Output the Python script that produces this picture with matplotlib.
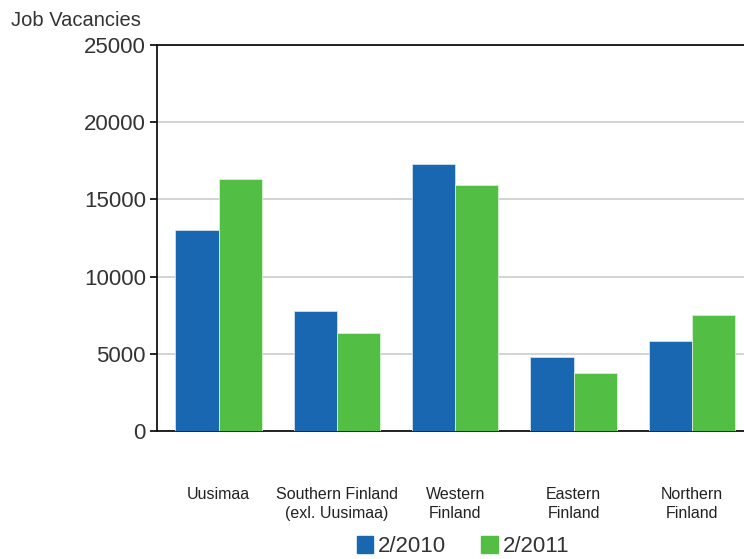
import numpy as np
import matplotlib.pyplot as plt
from matplotlib.patches import Patch

plt.rcParams['font.family'] = ['Liberation Sans', 'DejaVu Sans']

# Data
regions = ['Uusimaa', 'Southern Finland\n(exl. Uusimaa)', 'Western\nFinland',
           'Eastern\nFinland', 'Northern\nFinland']
vac_2010 = [13000, 7800, 17300, 4800, 5830]
vac_2011 = [16300, 6350, 15900, 3780, 7490]
series_names = ['2/2010', '2/2011']
yticks = [0, 5000, 10000, 15000, 20000, 25000]

blue = '#1867B0'
green = '#52BF44'

fig = plt.figure(figsize=(7.44, 5.59), dpi=100)
ax = fig.add_axes([0.211, 0.229, 0.789, 0.6905])

x = np.arange(len(regions))
w = 0.365
ax.bar(x - w / 2, vac_2010, w, color=blue, edgecolor='#cfe0f0', linewidth=0.6, zorder=3)
ax.bar(x + w / 2, vac_2011, w, color=green, edgecolor='#d6f0d2', linewidth=0.6, zorder=3)

ax.set_xlim(-0.52, 4.44)
ax.set_ylim(0, 25000)
ax.set_yticks(yticks)
ax.set_yticklabels([str(v) for v in yticks], fontsize=16, color='#333333')
ax.yaxis.grid(True, color='#cccccc', linewidth=1.2, zorder=0)

ax.set_xticks(x)
ax.set_xticklabels(regions, fontsize=11.5, color='#222222', linespacing=1.4)
ax.tick_params(axis='x', length=0, pad=40)
ax.tick_params(axis='y', length=5, width=1.2, pad=3)

ax.spines['right'].set_visible(False)
for side in ['left', 'bottom', 'top']:
    ax.spines[side].set_linewidth(1.3)
    ax.spines[side].set_color('#111111')

fig.text(0.015, 0.947, 'Job Vacancies', fontsize=14.5, color='#333333', ha='left', va='bottom')

handles = [Patch(color=blue), Patch(color=green)]
fig.legend(handles, series_names, loc='center', bbox_to_anchor=(0.622, 0.022),
           ncol=2, frameon=False, fontsize=16, handlelength=0.75, handleheight=0.75,
           handletextpad=0.2, columnspacing=1.6, labelcolor='#333333')

fig.savefig('out.png', dpi=100)
